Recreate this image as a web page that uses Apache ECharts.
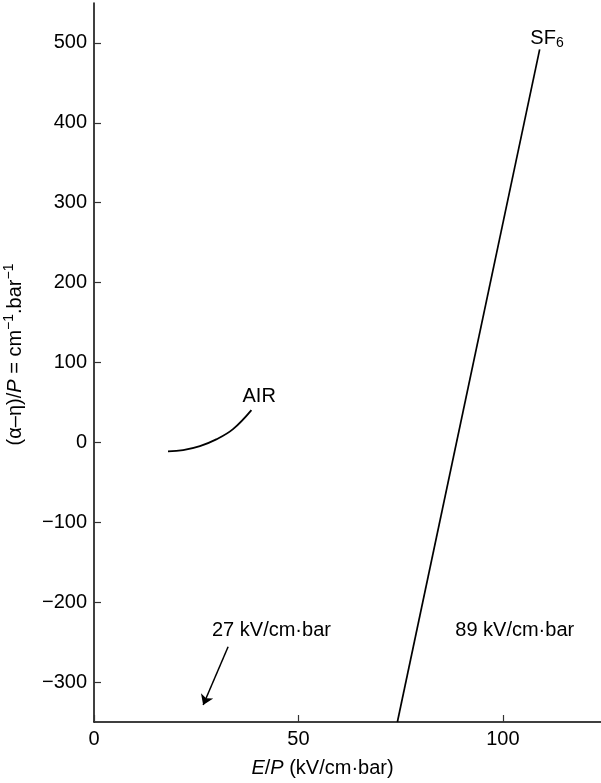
<!DOCTYPE html>
<html style="height: 100%">
<head>
    <meta charset="utf-8" />
    <script src="https://cdn.jsdelivr.net/npm/echarts@6/dist/echarts.min.js"></script>
</head>
<body style="height: 100%; margin: 0; background: #fff">
    <div id="container" style="width: 601px; height: 783px;"></div>
    <script type="text/javascript">
        var dom = document.getElementById('container');
        var myChart = echarts.init(dom, null, { renderer: 'canvas' });

        // tick labels
        const xTicks = [0, 50, 100];
        const yTicks = [-300, -200, -100, 0, 100, 200, 300, 400, 500];

        // curves (E/P, (alpha-eta)/P)
        const sf6Line = [[74.2, -350], [109, 492]];
        const airCurve = [[18.1, -11.3], [21.8, -9.6], [25.9, -4.6], [29.9, 3.8], [34.0, 16.6], [38.5, 40.4]];
        const arrowCoords = [[32.8, -255.8], [26.7, -328.8]];

        // text annotations [x, y, text]
        const notes = [
            [40.4, 57, 'AIR'],
            [110.8, 506, 'SF{sub|6}'],
            [43.4, -236, '27 kV/cm·bar'],
            [102.9, -236, '89 kV/cm·bar']
        ];

        const ink = '#000';
        const font = 'Liberation Sans';
        const fs = 20;

        var option = {
            backgroundColor: '#fff',
            animation: false,
            grid: { left: 94, right: 0, top: 3, bottom: 61, outerBoundsMode: 'none', containLabel: false },
            xAxis: {
                type: 'value',
                min: 0,
                max: 124,
                name: '{i|E}/{i|P} (kV/cm·bar)',
                nameLocation: 'middle',
                nameGap: 36,
                nameTextStyle: {
                    color: ink, fontFamily: font, fontSize: fs,
                    padding: [0, 50, 0, 0],
                    rich: { i: { fontStyle: 'italic', color: ink, fontFamily: font, fontSize: fs } }
                },
                axisLine: { show: true, onZero: false, lineStyle: { color: ink, width: 1.5 } },
                axisTick: { show: true, inside: true, length: 7, customValues: xTicks, lineStyle: { color: '#333', width: 1.2 } },
                axisLabel: { customValues: xTicks, margin: 7, color: ink, fontFamily: font, fontSize: fs },
                splitLine: { show: false }
            },
            yAxis: {
                type: 'value',
                min: -350,
                max: 550,
                name: '(α–η)/{i|P} = cm{sup|−1}.bar{sup|−1}',
                nameLocation: 'middle',
                nameRotate: 90,
                nameGap: 66,
                nameTextStyle: {
                    color: ink, fontFamily: font, fontSize: fs,
                    padding: [0, 0, 0, 16],
                    rich: {
                        i: { fontStyle: 'italic', color: ink, fontFamily: font, fontSize: fs },
                        sup: { color: ink, fontFamily: font, fontSize: 14, padding: [0, 0, 12, 0] }
                    }
                },
                axisLine: { show: true, lineStyle: { color: ink, width: 1.5 } },
                axisTick: { show: true, inside: true, length: 7, customValues: yTicks, lineStyle: { color: '#333', width: 1.2 } },
                axisLabel: {
                    customValues: yTicks, margin: 7, color: ink, fontFamily: font, fontSize: fs,
                    formatter: function (v) { return String(v).replace('-', '−'); }
                },
                splitLine: { show: false }
            },
            series: [
                {
                    name: 'SF6',
                    type: 'line',
                    data: sf6Line,
                    symbol: 'none',
                    lineStyle: { color: ink, width: 1.7 }
                },
                {
                    name: 'AIR',
                    type: 'line',
                    data: airCurve,
                    symbol: 'none',
                    smooth: 0.4,
                    lineStyle: { color: ink, width: 1.8 }
                },
                {
                    type: 'lines',
                    coordinateSystem: 'cartesian2d',
                    symbol: ['none', 'arrow'],
                    symbolSize: [6, 10],
                    lineStyle: { color: ink, width: 1.5, opacity: 1 },
                    data: [{ coords: arrowCoords }]
                },
                {
                    type: 'scatter',
                    symbolSize: 0,
                    silent: true,
                    data: notes,
                    itemStyle: { color: ink, opacity: 1 },
                    label: {
                        show: true,
                        position: 'inside',
                        color: ink,
                        opacity: 1,
                        fontFamily: font,
                        fontSize: fs,
                        formatter: function (p) { return p.data[2]; },
                        rich: {
                            sub: { color: ink, fontFamily: font, fontSize: 14, padding: [10, 0, 0, 0] }
                        }
                    }
                }
            ]
        };

        myChart.setOption(option);
        window.addEventListener('resize', myChart.resize);
    </script>
</body>
</html>
